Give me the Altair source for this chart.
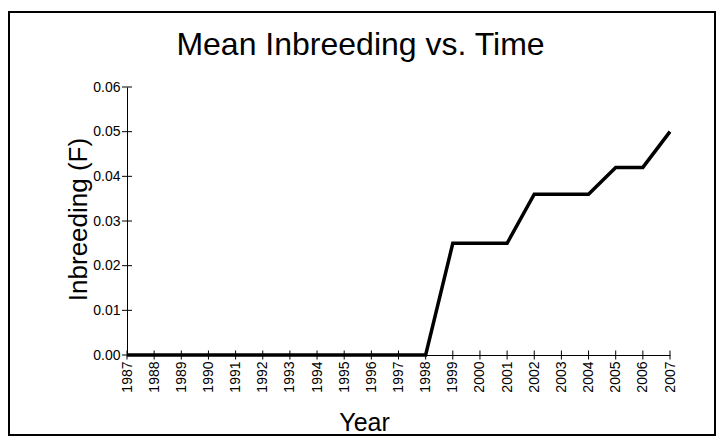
import altair as alt
import pandas as pd

years = [1987, 1988, 1989, 1990, 1991, 1992, 1993, 1994, 1995, 1996, 1997,
         1998, 1999, 2000, 2001, 2002, 2003, 2004, 2005, 2006, 2007]
inbreeding = [0.0, 0.0, 0.0, 0.0, 0.0, 0.0, 0.0, 0.0, 0.0, 0.0, 0.0,
              0.0, 0.025, 0.025, 0.025, 0.036, 0.036, 0.036, 0.042, 0.042, 0.050]
y_ticks = [0.00, 0.01, 0.02, 0.03, 0.04, 0.05, 0.06]

FONT = "Liberation Sans"

df = pd.DataFrame({"year": years, "F": inbreeding})
df_xt = pd.DataFrame({"year": years, "F": [0.0] * len(years)})
df_yt = pd.DataFrame({"F": y_ticks, "year": [1987] * len(y_ticks)})

xscale = alt.Scale(domain=[1987, 2007], nice=False, zero=False)
yscale = alt.Scale(domain=[0, 0.06], nice=False)

xaxis = alt.Axis(values=years, format="d", labelAngle=270,
                 labelAlign="right", labelBaseline="middle",
                 labelFont=FONT, labelFontSize=14, labelColor="black",
                 labelPadding=6, ticks=False, tickSize=0, grid=False,
                 domainColor="black", domainWidth=1,
                 titleFont=FONT, titleFontSize=25, titleFontWeight="normal",
                 titleColor="black", titleX=237, titleY=75,
                 titleAlign="center", titleBaseline="alphabetic",
                 labelOverlap=False, labelFlush=False)
yaxis = alt.Axis(values=y_ticks, format=".2f",
                 labelFont=FONT, labelFontSize=14, labelColor="black",
                 labelPadding=7, ticks=False, tickSize=0, grid=False,
                 domainColor="black", domainWidth=1,
                 titleFont=FONT, titleFontSize=26, titleFontWeight="normal",
                 titleColor="black", titleX=-41, titleY=132,
                 titleAngle=270, titleAlign="center",
                 titleBaseline="alphabetic",
                 labelOverlap=False, labelFlush=False)


def enc_x():
    return alt.X("year:Q", scale=xscale, title="Year", axis=xaxis)


def enc_y():
    return alt.Y("F:Q", scale=yscale, title="Inbreeding (F)", axis=yaxis)


line = alt.Chart(df).mark_line(color="black", strokeWidth=3.5).encode(
    x=enc_x(), y=enc_y()
)

xt = alt.Chart(df_xt).mark_tick(color="black", thickness=1, size=9,
                                opacity=1, orient="vertical").encode(
    x=enc_x(), y=enc_y()
)

yt = alt.Chart(df_yt).mark_tick(color="black", thickness=1, size=10,
                                opacity=1, orient="horizontal").encode(
    x=enc_x(), y=enc_y()
)

frame = alt.Chart(df_xt.head(1)).mark_rect(
    fillOpacity=0, stroke="black", strokeWidth=2
).encode(
    x=alt.value(-118), x2=alt.value(588),
    y=alt.value(-75), y2=alt.value(348),
)

chart = alt.layer(line, xt, yt, frame).properties(
    width=543,
    height=268,
    title=alt.TitleParams("Mean Inbreeding vs. Time", font=FONT, fontSize=32,
                          fontWeight="normal", color="black", anchor="middle",
                          dx=-38, offset=-76, baseline="alphabetic"),
    autosize=alt.AutoSizeParams(type="none"),
    padding={"left": 119, "top": 79, "right": 46, "bottom": 81},
    background="white",
).configure_view(stroke=None)

chart.save("out.html", embed_options={"renderer": "svg", "actions": False})
